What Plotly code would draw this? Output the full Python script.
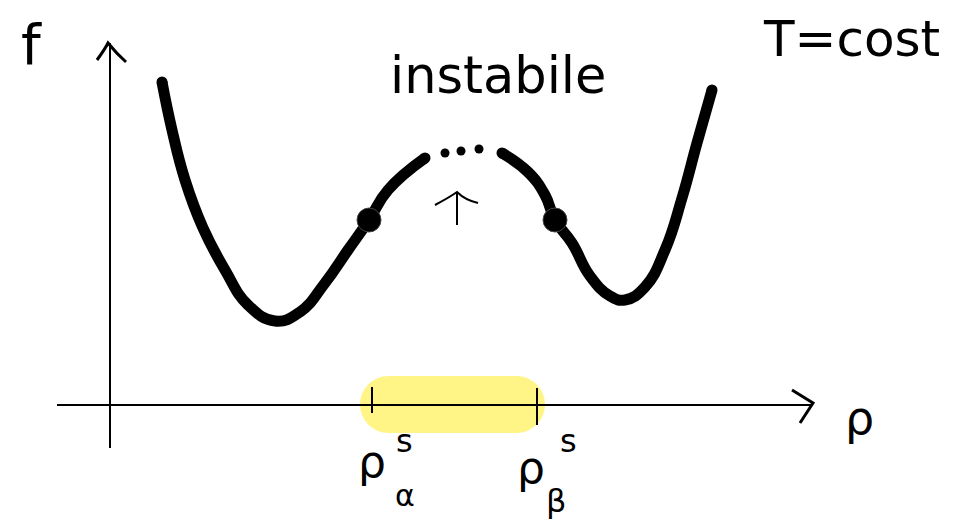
import plotly.graph_objects as go

# Double-well free energy f(rho) at fixed temperature (sketch units)
rho_left = [0.52, 0.62, 0.75, 0.93, 1.15, 1.38, 1.65, 1.90, 2.15, 2.38, 2.59, 2.78, 3.15]
f_left = [3.23, 2.75, 2.25, 1.77, 1.35, 1.00, 0.84, 0.93, 1.22, 1.55, 1.85, 2.15, 2.47]

rho_right = [3.92, 4.18, 4.35, 4.45, 4.62, 4.80, 5.00, 5.15, 5.35, 5.55, 5.72, 5.87, 6.02]
f_right = [2.52, 2.33, 2.10, 1.85, 1.62, 1.29, 1.09, 1.05, 1.18, 1.55, 2.07, 2.62, 3.15]

# unstable region (dotted) and spinodal points
rho_dots = [3.35, 3.51, 3.69]
f_dots = [2.52, 2.54, 2.56]
rho_spinodal = [2.59, 4.45]
f_spinodal = [1.85, 1.85]

# spinodal densities on the rho axis
rho_ticks = [2.62, 4.27]
band = (2.50, 4.35)

X_RANGE = [-1.10, 8.43]
Y_RANGE = [-1.17, 4.05]

fig = go.Figure()

ink = dict(color="black", width=11, shape="spline", smoothing=1.3)
for xs, ys in ((rho_left, f_left), (rho_right, f_right)):
    fig.add_trace(go.Scatter(x=xs, y=ys, mode="lines", line=ink, hoverinfo="skip"))
    # rounded pen ends
    fig.add_trace(go.Scatter(x=[xs[0], xs[-1]], y=[ys[0], ys[-1]], mode="markers",
                             marker=dict(color="black", size=11), hoverinfo="skip"))
fig.add_trace(go.Scatter(x=rho_dots, y=f_dots, mode="markers",
                         marker=dict(color="black", size=9), hoverinfo="skip"))
fig.add_trace(go.Scatter(x=rho_spinodal, y=f_spinodal, mode="markers",
                         marker=dict(color="black", size=24, line=dict(color="#444", width=1)),
                         hoverinfo="skip"))

# yellow highlight between the spinodals (pill shape)
x0, x1 = band
yb, yt = -0.28, 0.29
r = (yt - yb) / 2
k = 0.55 * r
pill = (f"M {x0 + r},{yb} L {x1 - r},{yb} "
        f"C {x1 - r + k},{yb} {x1},{yb + r - k} {x1},{yb + r} "
        f"C {x1},{yt - r + k} {x1 - r + k},{yt} {x1 - r},{yt} "
        f"L {x0 + r},{yt} "
        f"C {x0 + r - k},{yt} {x0},{yt - r + k} {x0},{yt - r} "
        f"C {x0},{yb + r - k} {x0 + r - k},{yb} {x0 + r},{yb} Z")
shapes = [dict(type="path", path=pill, fillcolor="#FFF47A", line=dict(width=0),
               layer="below", opacity=0.9)]

axis_line = dict(color="black", width=2)
# axes
shapes.append(dict(type="line", x0=0, y0=-0.43, x1=0, y1=3.62, line=axis_line))
shapes.append(dict(type="line", x0=-0.53, y0=0, x1=7.03, y1=0, line=axis_line))
# arrow heads
shapes.append(dict(type="path", path="M -0.13,3.45 Q -0.05,3.56 -0.02,3.62 Q 0.06,3.52 0.16,3.43",
                   line=dict(color="black", width=3)))
shapes.append(dict(type="path", path="M 6.82,0.15 L 7.03,0.02 L 6.90,-0.18",
                   line=dict(color="black", width=3)))
# tick marks at the spinodal densities
shapes.append(dict(type="line", x0=rho_ticks[0], y0=0.18, x1=rho_ticks[0], y1=-0.08, line=axis_line))
shapes.append(dict(type="line", x0=rho_ticks[1], y0=0.17, x1=rho_ticks[1], y1=-0.20, line=axis_line))
# small arrow pointing at the unstable branch
shapes.append(dict(type="line", x0=3.47, y0=1.80, x1=3.47, y1=2.13, line=axis_line))
shapes.append(dict(type="path", path="M 3.25,2.00 Q 3.40,2.08 3.47,2.13 Q 3.55,2.05 3.68,2.02",
                   line=dict(color="black", width=2)))

hand = "DejaVu Sans"
texts = [
    dict(text="f", x=0.033, y=0.915, size=56),
    dict(text="T=cost", x=0.893, y=0.925, size=50),
    dict(text="instabile", x=0.523, y=0.855, size=51),
    dict(text="ρ", x=0.902, y=0.2, size=46),
    dict(text="ρ", x=0.390, y=0.115, size=44),
    dict(text="s", x=0.424, y=0.155, size=32),
    dict(text="α", x=0.425, y=0.050, size=30),
    dict(text="ρ", x=0.557, y=0.105, size=44),
    dict(text="s", x=0.597, y=0.155, size=32),
    dict(text="β", x=0.583, y=0.040, size=32),
]
annotations = [dict(text=t["text"], x=t["x"], y=t["y"], xref="paper", yref="paper",
                    showarrow=False, xanchor="center", yanchor="middle",
                    font=dict(family=hand, size=t["size"], color="black"))
               for t in texts]

fig.update_layout(
    width=953, height=522,
    margin=dict(l=0, r=0, t=0, b=0),
    paper_bgcolor="white", plot_bgcolor="white",
    showlegend=False,
    shapes=shapes, annotations=annotations,
    xaxis=dict(range=X_RANGE, visible=False, fixedrange=True),
    yaxis=dict(range=Y_RANGE, visible=False, fixedrange=True),
)

fig.write_html("out.html", config={"displayModeBar": False})
